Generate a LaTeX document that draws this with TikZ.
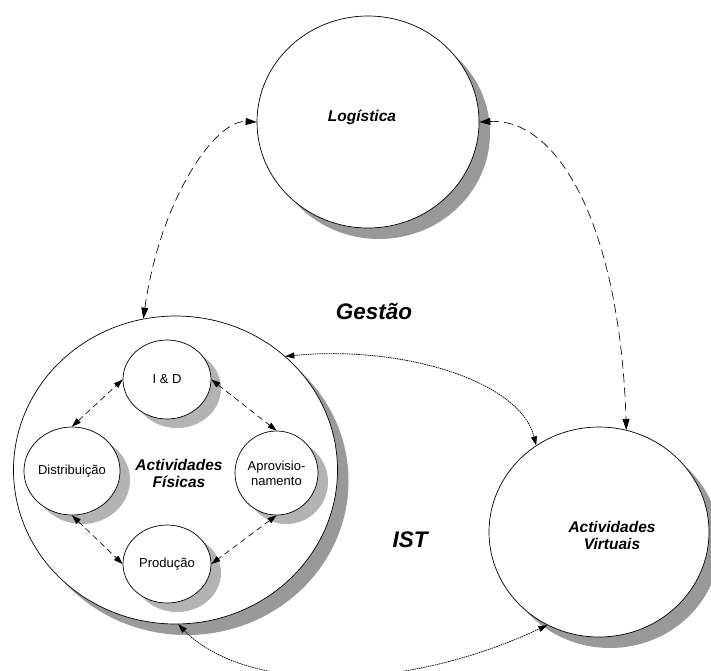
\documentclass[tikz,border=0pt]{standalone}
\usepackage{fontspec}
\setmainfont{Liberation Sans}
\usetikzlibrary{shapes.geometric,arrows.meta,shadows}
\definecolor{shbig}{HTML}{999999}
\definecolor{shsmall}{HTML}{B3B3B3}
\begin{document}
\begin{tikzpicture}[x=1pt,y=-1pt,
  circ/.style={ellipse,draw,line width=0.7pt,fill=white,inner sep=0pt},
  bigcirc/.style={circ,drop shadow={shadow xshift=11pt,shadow yshift=-11pt,fill=shbig,opacity=1}},
  smallcirc/.style={circ,drop shadow={shadow xshift=10pt,shadow yshift=-9pt,fill=shsmall,opacity=1},
    font=\fontsize{13}{15}\selectfont,align=center},
  mainlbl/.style={font=\fontsize{15.5}{17}\selectfont\bfseries\itshape,align=center,inner sep=0pt},
  biglbl/.style={font=\fontsize{22.5}{26}\selectfont\bfseries\itshape,inner sep=0pt},
  tipbig/.tip={Triangle[length=11pt,width=7pt]},
  tipsmall/.tip={Triangle[length=9pt,width=6pt]},
  bigdash/.style={line width=0.65pt,dash pattern=on 9pt off 5pt,tipbig-tipbig},
  smalldash/.style={line width=0.65pt,dash pattern=on 6pt off 4pt,tipsmall-tipsmall},
  dotarrow/.style={line width=0.75pt,dash pattern=on 1.5pt off 0.8pt,tipsmall-tipsmall}
]
\useasboundingbox (0,0) rectangle (711,670);

% large circles
\node[bigcirc,minimum width=222pt,minimum height=212pt] (log) at (368,122) {};
\node[bigcirc,minimum width=324pt,minimum height=308pt] (fis) at (175.5,470) {};
\node[bigcirc,minimum width=220pt,minimum height=210pt] (vir) at (599,532) {};

% small circles
\node[smallcirc,minimum width=88pt,minimum height=79pt] (id) at (167,379.5) {I \& D};
\node[smallcirc,minimum width=92pt,minimum height=88pt] (dist) at (72,471) {Distribuição};
\node[smallcirc,minimum width=83pt,minimum height=84pt] (apr) at (276.5,473) {Aprovisio-\\namento};
\node[smallcirc,minimum width=88pt,minimum height=78pt] (prod) at (167,564) {Produção};

% labels
\node[mainlbl] (logt) at (362,117) {Logística};
\node[mainlbl] (fist) at (179,473) {Actividades\\Físicas};
\node[mainlbl] (virt) at (612,535) {Actividades\\Virtuais};
\node[biglbl] (gest) at (374,311) {Gestão};
\node[biglbl] (ist) at (410,540) {IST};

% connectors
\draw[bigdash] (fis.102) .. controls (160,200) and (215,120) .. (log.west);
\draw[bigdash] (log.east) .. controls (560,118) and (620,230) .. (vir.75);
\draw[dotarrow] (fis.46) .. controls (400,345) and (520,380) .. (vir.126);
\draw[dotarrow] (fis.271) .. controls (245,692) and (400,694) .. (vir.241);
\draw[smalldash] (dist.north) -- (id.west);
\draw[smalldash] (id.east) -- (apr.north);
\draw[smalldash] (dist.south) -- (prod.west);
\draw[smalldash] (apr.south) -- (prod.east);
\end{tikzpicture}
\end{document}
